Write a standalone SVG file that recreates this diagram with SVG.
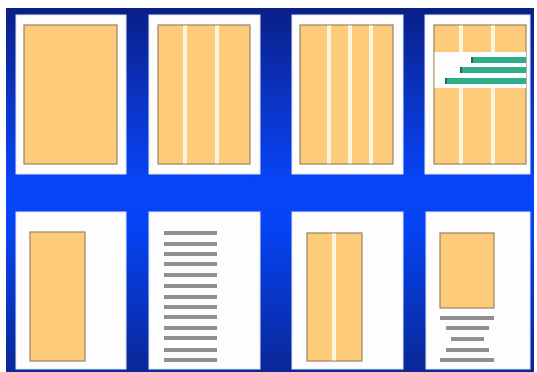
<svg xmlns="http://www.w3.org/2000/svg" width="537" height="372" viewBox="0 0 537 372">
<defs>
<linearGradient id="bg" x1="0" y1="8" x2="0" y2="372" gradientUnits="userSpaceOnUse">
<stop offset="0" stop-color="#0a1f86"/>
<stop offset="0.25" stop-color="#0a34c4"/>
<stop offset="0.5" stop-color="#0646fb"/>
<stop offset="0.62" stop-color="#0642f0"/>
<stop offset="1" stop-color="#0a2796"/>
</linearGradient>
<style>
.page{fill:#fdfdfd;stroke:#dfe6f5;stroke-width:1}
.box{fill:#fdcb7a;stroke:#9a8466;stroke-width:1.2}
.gut{fill:#fff3dc}
.grn{fill:#2fae8c}
.grne{fill:#1f6a5a}
.txt{fill:#8f8f8f}
</style>
</defs>
<rect width="537" height="372" fill="#ffffff"/>
<rect x="6" y="8" width="528" height="364" fill="url(#bg)"/>

<g id="page1">
<rect class="page" x="16" y="15" width="110" height="159"/>
<rect class="box" x="24" y="25" width="93" height="139"/>
</g>

<g id="page2">
<rect class="page" x="149" y="15" width="111" height="159"/>
<rect class="box" x="158" y="25" width="92" height="139"/>
<rect class="gut" x="183" y="25.6" width="4" height="137.8"/>
<rect class="gut" x="215" y="25.6" width="4" height="137.8"/>
</g>

<g id="page3">
<rect class="page" x="292" y="15" width="111" height="159"/>
<rect class="box" x="300" y="25" width="93" height="139"/>
<rect class="gut" x="327" y="25.6" width="4" height="137.8"/>
<rect class="gut" x="348" y="25.6" width="4" height="137.8"/>
<rect class="gut" x="369" y="25.6" width="4" height="137.8"/>
</g>

<g id="page4">
<rect class="page" x="425" y="15" width="105" height="159"/>
<rect class="box" x="434" y="25" width="92" height="139"/>
<rect class="gut" x="459" y="25.6" width="4" height="137.8"/>
<rect class="gut" x="491" y="25.6" width="4" height="137.8"/>
<rect x="434.6" y="52" width="91.4" height="36" fill="#fdfdfd"/>
<rect class="grn" x="471" y="57" width="55" height="6"/>
<rect class="grne" x="471" y="57" width="2" height="6"/>
<rect class="grn" x="460" y="67" width="66" height="6"/>
<rect class="grne" x="460" y="67" width="2" height="6"/>
<rect class="grn" x="445" y="78" width="81" height="6"/>
<rect class="grne" x="445" y="78" width="2" height="6"/>
</g>

<g id="page5">
<rect class="page" x="16" y="212" width="110" height="157"/>
<rect class="box" x="30" y="232" width="55" height="129"/>
</g>

<g id="page6">
<rect class="page" x="149" y="212" width="111" height="157"/>
<rect class="txt" x="164" y="231" width="53" height="4"/>
<rect class="txt" x="164" y="242" width="53" height="4"/>
<rect class="txt" x="164" y="252" width="53" height="4"/>
<rect class="txt" x="164" y="262" width="53" height="4"/>
<rect class="txt" x="164" y="273" width="53" height="4"/>
<rect class="txt" x="164" y="284" width="53" height="4"/>
<rect class="txt" x="164" y="295" width="53" height="4"/>
<rect class="txt" x="164" y="305" width="53" height="4"/>
<rect class="txt" x="164" y="315" width="53" height="4"/>
<rect class="txt" x="164" y="326" width="53" height="4"/>
<rect class="txt" x="164" y="336" width="53" height="4"/>
<rect class="txt" x="164" y="348" width="53" height="4"/>
<rect class="txt" x="164" y="358" width="53" height="4"/>
</g>

<g id="page7">
<rect class="page" x="292" y="212" width="111" height="157"/>
<rect class="box" x="307" y="233" width="55" height="128"/>
<rect class="gut" x="332" y="233.6" width="4" height="126.8"/>
</g>

<g id="page8">
<rect class="page" x="426" y="212" width="104" height="157"/>
<rect class="box" x="440" y="233" width="54" height="75"/>
<rect class="txt" x="440" y="316" width="54" height="4"/>
<rect class="txt" x="446" y="326" width="43" height="4"/>
<rect class="txt" x="451" y="337" width="33" height="4"/>
<rect class="txt" x="446" y="348" width="43" height="4"/>
<rect class="txt" x="440" y="358" width="54" height="4"/>
</g>
</svg>
